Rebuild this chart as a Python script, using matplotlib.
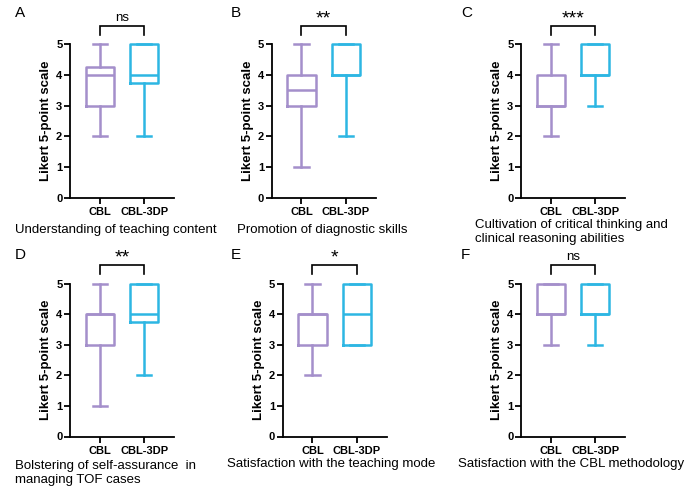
import matplotlib
matplotlib.use('Agg')
import matplotlib.pyplot as plt

plt.rcParams['font.family'] = ['Liberation Sans', 'DejaVu Sans']

groups = ['CBL', 'CBL-3DP']
panel_letters = ['A', 'B', 'C', 'D', 'E', 'F']
captions = [
    'Understanding of teaching content',
    'Promotion of diagnostic skills',
    'Cultivation of critical thinking and\nclinical reasoning abilities',
    'Bolstering of self-assurance  in\nmanaging TOF cases',
    'Satisfaction with the teaching mode',
    'Satisfaction with the CBL methodology',
]
significance = ['ns', '**', '***', '**', '*', 'ns']
# five-number summaries: [min whisker, Q1, median, Q3, max whisker]
cbl_stats = [
    [2, 3, 4, 4.25, 5],
    [1, 3, 3.5, 4, 5],
    [2, 3, 3, 4, 5],
    [1, 3, 4, 4, 5],
    [2, 3, 4, 4, 5],
    [3, 4, 4, 5, 5],
]
cbl3dp_stats = [
    [2, 3.75, 4, 5, 5],
    [2, 4, 4, 5, 5],
    [3, 4, 4, 5, 5],
    [2, 3.75, 4, 5, 5],
    [3, 3, 4, 5, 5],
    [3, 4, 4, 5, 5],
]
y_ticks = [0, 1, 2, 3, 4, 5]

colors = ['#a48fcb', '#2db6e3']

W, H = 685, 492
fig = plt.figure(figsize=(W / 100, H / 100), dpi=100)

# layout in pixels: (axes left, axes bottom y-pixel from top, y-pixel of value 5)
layout = [
    (70, 197.5, 44.5), (271.7, 197.5, 44.5), (521, 197.5, 44.5),
    (70, 436.5, 283.5), (282.7, 436.5, 283.5), (521, 436.5, 283.5),
]
ax_w = 104
letter_pos = [(15, 13), (231, 13), (461, 13), (15, 255), (231, 255), (461, 255)]
caption_pos = [(15, 230), (237, 230), (475, 232), (15, 473), (227, 464), (458, 464)]

def stats_dict(s, label):
    return dict(whislo=s[0], q1=s[1], med=s[2], q3=s[3], whishi=s[4], label=label, fliers=[])

for i in range(6):
    lx, yb, yt = layout[i]
    ax = fig.add_axes([lx / W, 1 - yb / H, ax_w / W, (yb - yt) / H])
    stats = [stats_dict(cbl_stats[i], groups[0]), stats_dict(cbl3dp_stats[i], groups[1])]
    for j, st in enumerate(stats):
        c = colors[j]
        lw = 1.8
        ax.bxp([st], positions=[j + 1], widths=0.64, showfliers=False,
               boxprops=dict(color=c, linewidth=lw),
               whiskerprops=dict(color=c, linewidth=lw),
               capprops=dict(color=c, linewidth=lw),
               medianprops=dict(color=c, linewidth=lw),
               capwidths=0.32, manage_ticks=False)
    for art in ax.lines:
        art.set_clip_on(False)
    ax.set_xlim(0.33, 2.67)
    ax.set_ylim(0, 5)
    ax.set_xticks([1, 2])
    ax.set_xticklabels(groups, fontsize=8, fontweight='bold')
    ax.set_yticks(y_ticks)
    ax.set_yticklabels([str(t) for t in y_ticks], fontsize=8, fontweight='bold')
    ax.spines['top'].set_visible(False)
    ax.spines['right'].set_visible(False)
    for sp in ['left', 'bottom']:
        ax.spines[sp].set_linewidth(1.3)
    ax.tick_params(axis='y', width=1.3, length=4, pad=1.5, color='black')
    ax.tick_params(axis='x', width=1.3, length=4, pad=3, color='black')
    ax.set_ylabel('Likert 5-point scale', fontsize=9.5, fontweight='bold', labelpad=3)

    # significance bracket
    ax.plot([1, 1, 2, 2], [5.32, 5.62, 5.62, 5.32], color='black', lw=1.2,
            clip_on=False, solid_joinstyle='miter')
    txt = significance[i]
    if txt == 'ns':
        ax.text(1.5, 5.68, txt, ha='center', va='bottom', fontsize=9.5, clip_on=False)
    else:
        ax.text(1.5, 5.55, txt, ha='center', va='bottom', fontsize=14, clip_on=False)

    px, py = letter_pos[i]
    fig.text(px / W, 1 - py / H, panel_letters[i], fontsize=11, va='center', ha='left')
    cx, cy = caption_pos[i]
    fig.text(cx / W, 1 - cy / H, captions[i], fontsize=9.5, va='center', ha='left',
             linespacing=1.15)

fig.savefig('out.png', dpi=100)
